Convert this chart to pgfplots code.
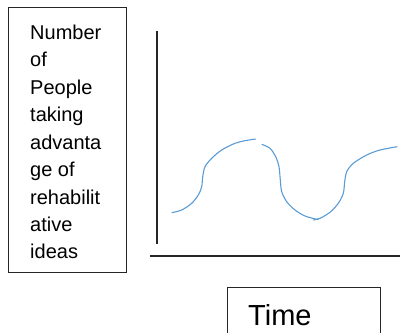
\documentclass[border=0pt]{standalone}
\usepackage{fontspec}
\setmainfont{Liberation Sans}
\usepackage{pgfplots}
\pgfplotsset{compat=1.18}

\definecolor{curveblue}{HTML}{5B9BD5}

\begin{document}
\begin{tikzpicture}
\useasboundingbox (0,0) rectangle (402bp,333bp);
\begin{axis}[
    at={(0,0)}, anchor=south west,
    width=402bp, height=333bp, scale only axis,
    xmin=0, xmax=402, ymin=0, ymax=333,
    hide axis, clip=false,
]
% hand-drawn axes (they do not meet)
\addplot[black!85, line width=1.3bp] coordinates {(157,302) (157,89)};
\addplot[black!85, line width=1.3bp] coordinates {(150,77) (400,77)};

% the wave, three pieces
\addplot[curveblue, line width=1.1bp, smooth, tension=0.5] coordinates {
    (171.7,120.3) (181.7,123) (191.7,129.7) (198.3,138) (201.7,146.3)
    (202.7,156.3) (205,166.3) (211.7,174.7) (221.7,183) (235,189.7)
    (245,192.3) (255.7,194)
};
\addplot[curveblue, line width=1.1bp, smooth, tension=0.5] coordinates {
    (261.7,188.7) (270,184.7) (275.7,176.3) (279,166.3) (280.3,153)
    (281.7,141.3) (286.7,131.3) (295,123) (305,117) (316.7,113.7) (318.3,113.7)
};
\addplot[curveblue, line width=1.1bp, smooth, tension=0.5] coordinates {
    (313.3,113) (320,114.7) (330,120.7) (338.3,129.7) (343.3,139.7)
    (344.7,151.3) (346.7,161.3) (353.3,169.7) (366.7,178) (380,183) (397.3,186.3)
};
\end{axis}

% y label box (axis units are 1bp, origin at the corner)
\draw[black!85, line width=0.9bp] (8bp,326bp) rectangle (126bp,61bp);
\foreach \t [count=\i from 0] in {Number,of,People,taking,advanta,ge of,rehabilit,ative,ideas}
    \node[anchor=base west, inner sep=0pt, font=\fontsize{20bp}{24bp}\selectfont]
        at (30bp,{(293.7-27.45*\i)*1bp}) {\t};

% x label box, open at the bottom edge
\draw[black!85, line width=0.9bp] (227.3bp,0) -- (227.3bp,45.7bp) -- (380bp,45.7bp) -- (380bp,0);
\node[anchor=base west, inner sep=0pt, font=\fontsize{29bp}{34bp}\selectfont]
    at (248bp,8bp) {Time};
\end{tikzpicture}
\end{document}
